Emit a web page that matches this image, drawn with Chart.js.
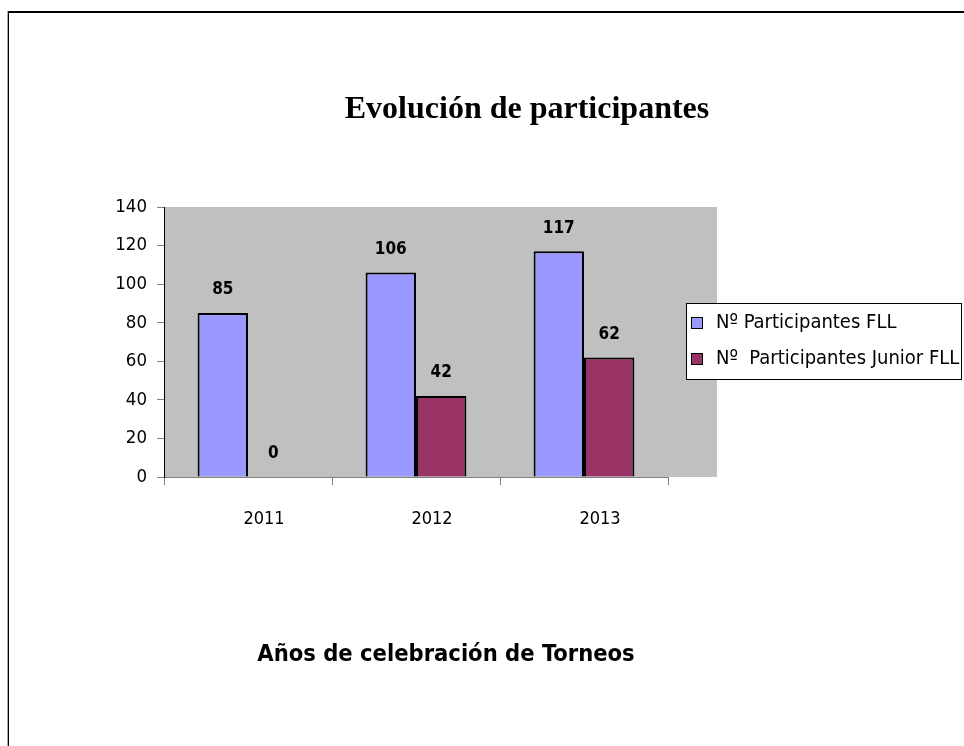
<!DOCTYPE html>
<html>
<head>
<meta charset="utf-8">
<script src="https://cdn.jsdelivr.net/npm/chart.js@4"></script>
<style>
  html, body { margin: 0; padding: 0; background: #fff; }
  #wrap { position: relative; width: 964px; height: 746px; }
  #frame { position: absolute; left: 8px; top: 11px; right: 0; bottom: 0;
           border-left: 1px solid #000; border-top: 2px solid #000; box-shadow: -1px 0 0 #aaa; }
  canvas { position: absolute; left: 0; top: 0; }
</style>
</head>
<body>
<div id="wrap">
  <div id="frame"></div>
  <canvas id="chart" width="964" height="746"></canvas>
</div>
<script>
const years = ['2011', '2012', '2013'];
const fll = [85, 106, 117];
const junior = [0, 42, 62];
const seriesNames = ['Nº Participantes FLL', 'Nº  Participantes Junior FLL'];
const yTicks = [0, 20, 40, 60, 80, 100, 120, 140];

const narrow = '"Liberation Sans Narrow", "Arial Narrow", "DejaVu Sans Condensed", sans-serif';

// gray plot background (it runs a bit past the x axis, under the legend)
const plotBg = {
    id: 'plotBg',
    beforeDraw(chart) {
        const { ctx, chartArea: a } = chart;
        ctx.save();
        ctx.fillStyle = '#C0C0C0';
        ctx.fillRect(a.left, a.top, a.right - a.left + 49, a.bottom - a.top);
        ctx.restore();
    }
};

// titles, value labels and the boxed legend
const extras = {
    id: 'extras',
    afterDraw(chart) {
        const { ctx } = chart;
        ctx.save();
        ctx.fillStyle = '#000';
        ctx.textAlign = 'center';
        ctx.textBaseline = 'middle';

        ctx.font = 'bold 32px "Liberation Serif", "Times New Roman", serif';
        ctx.fillText('Evolución de participantes', 527, 110);

        ctx.font = 'bold 23.5px ' + narrow;
        ctx.fillText('Años de celebración de Torneos', 446, 655);

        ctx.font = 'bold 17px ' + narrow;
        chart.data.datasets.forEach((ds, i) => {
            chart.getDatasetMeta(i).data.forEach((bar, j) => {
                ctx.fillText(String(ds.data[j]), bar.x, bar.y - 23);
            });
        });

        // legend
        const lx = 686, ly = 303, lw = 275, lh = 76;
        ctx.fillStyle = '#fff';
        ctx.fillRect(lx, ly, lw, lh);
        ctx.strokeStyle = '#000';
        ctx.lineWidth = 1;
        ctx.strokeRect(lx + 0.5, ly + 0.5, lw, lh);
        ctx.font = '20px ' + narrow;
        ctx.textAlign = 'left';
        chart.data.datasets.forEach((ds, i) => {
            const y = ly + 20 + i * 36;
            ctx.fillStyle = ds.backgroundColor;
            ctx.fillRect(lx + 5, y - 6, 12, 12);
            ctx.strokeRect(lx + 5.5, y - 5.5, 11, 11);
            ctx.fillStyle = '#000';
            ctx.fillText(ds.label, lx + 30, y);
        });
        ctx.restore();
    }
};

new Chart(document.getElementById('chart'), {
    type: 'bar',
    data: {
        labels: years,
        datasets: [
            { label: seriesNames[0], data: fll, backgroundColor: '#9999FF', borderColor: '#000', borderWidth: 2 },
            { label: seriesNames[1], data: junior, backgroundColor: '#993366', borderColor: '#000', borderWidth: 2 }
        ]
    },
    options: {
        responsive: false,
        animation: false,
        layout: { padding: { left: 0, top: 207, right: 296, bottom: 209 } },
        plugins: { legend: { display: false }, tooltip: { enabled: false } },
        datasets: { bar: { categoryPercentage: 0.6, barPercentage: 1.0 } },
        scales: {
            x: {
                offset: true,
                grid: { offset: true, drawOnChartArea: false, color: '#808080', tickLength: 8 },
                border: { color: '#808080', width: 1 },
                ticks: { color: '#000', font: { family: narrow, size: 18 }, padding: 24, labelOffset: 16 },
                afterFit(s) { s.height = 60; }
            },
            y: {
                min: 0,
                max: 140,
                afterBuildTicks(s) { s.ticks = yTicks.map(v => ({ value: v })); },
                grid: { drawOnChartArea: false, color: '#808080', tickLength: 7 },
                border: { color: '#000', width: 1 },
                ticks: { color: '#000', font: { family: narrow, size: 18.5 }, padding: 10 },
                afterFit(s) { s.width = 164; }
            }
        }
    },
    plugins: [plotBg, extras]
});
</script>
</body>
</html>
